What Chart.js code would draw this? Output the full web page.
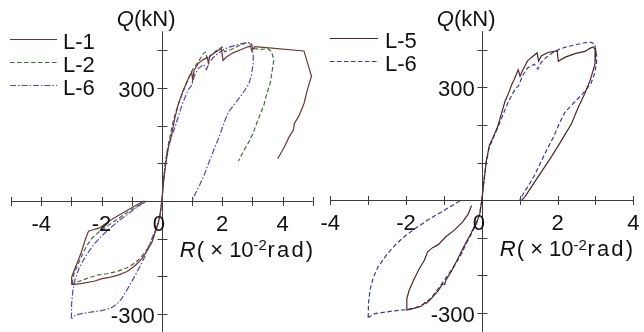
<!DOCTYPE html>
<html>
<head>
<meta charset="utf-8">
<script src="https://cdn.jsdelivr.net/npm/chart.js@4.4.1/dist/chart.umd.min.js"></script>
<style>
  html, body { margin: 0; padding: 0; background: #ffffff; }
  #wrap { position: relative; width: 644px; height: 332px; overflow: hidden; }
  canvas { position: absolute; top: 0; }
</style>
</head>
<body>
<div id="wrap">
  <canvas id="left" width="322" height="332" style="left:0px"></canvas>
  <canvas id="right" width="328" height="332" style="left:316px"></canvas>
</div>
<script>
// ---------------- data (R in 1e-2 rad, Q in kN) ----------------
const l1Pos = [[0,0],[0.05,46],[0.13,99],[0.22,143],[0.33,179],[0.44,223],[0.55,258],[0.71,294],[0.88,325],[0.99,342],[1.02,320],[1.07,347],[1.21,365],[1.37,375],[1.51,381],[1.54,366],[1.59,384],[1.75,393],[1.92,402],[1.97,404],[2.03,373],[2.14,382],[2.36,393],[2.63,402],[2.85,409],[2.94,411],[2.98,398],[3.07,409],[3.18,409],[4.71,398],[4.96,331],[4.82,294],[4.71,258],[4.55,227],[4.39,205],[4.36,188],[4.22,170],[4.06,143],[3.84,112]];
const l1NegLoad = [[0,0],[-0.05,-31],[-0.11,-57],[-0.22,-83],[-0.33,-110],[-0.49,-132],[-0.66,-153],[-0.88,-171],[-1.15,-187],[-1.43,-196],[-1.70,-202],[-1.98,-206],[-2.25,-213],[-2.69,-219],[-2.99,-222]];
const l1NegUnload = [[-2.99,-222],[-2.99,-202],[-2.93,-189],[-2.82,-167],[-2.67,-136],[-2.53,-101],[-2.43,-80],[-2.31,-77],[-2.09,-72],[-1.98,-66],[-1.70,-51],[-1.43,-38],[-1.04,-20],[-0.60,0]];

const l2Pos = [[0,0],[0.11,99],[0.22,152],[0.38,214],[0.55,258],[0.77,303],[0.93,334],[1.04,351],[1.21,369],[1.37,391],[1.45,395],[1.51,375],[1.62,387],[1.86,402],[2.0,409],[2.08,396],[2.30,402],[2.58,413],[2.80,419],[2.96,416],[3.07,404],[3.29,402],[3.51,404],[3.64,396],[3.71,373],[3.60,316],[3.45,276],[3.38,254],[3.18,214],[3.02,179],[2.85,152],[2.69,130],[2.54,106]];
const l2NegLoad = [[0,0],[-0.05,-30],[-0.12,-58],[-0.22,-82],[-0.35,-108],[-0.5,-130],[-0.7,-150],[-0.9,-165],[-1.15,-177],[-1.45,-186],[-1.8,-193],[-2.1,-196],[-2.4,-203],[-2.7,-212],[-2.97,-220]];
const l2NegUnload = [[-2.97,-220],[-2.92,-195],[-2.82,-175],[-2.68,-150],[-2.5,-120],[-2.3,-97],[-2.1,-83],[-1.8,-66],[-1.5,-50],[-1.2,-33],[-0.9,-18],[-0.6,-5],[-0.5,0]];

const l6Pos = [[0,0],[0.05,50],[0.11,96],[0.19,138],[0.33,172],[0.45,200],[0.57,230],[0.70,262],[0.82,285],[0.90,298],[0.97,305],[1.08,332],[1.21,352],[1.39,362],[1.48,349],[1.57,367],[1.70,380],[1.88,393],[2.05,402],[2.23,408],[2.45,413],[2.72,419],[2.89,420],[2.98,416],[3.03,385],[3.03,365],[2.97,335],[2.88,310],[2.65,282],[2.40,256],[2.20,235],[2.05,205],[1.90,170],[1.72,135],[1.55,100],[1.40,68],[1.25,42],[1.10,18],[1.0,0]];
const l6NegLoad = [[0,0],[-0.06,-38],[-0.15,-65],[-0.28,-90],[-0.42,-117],[-0.55,-145],[-0.70,-170],[-0.85,-192],[-1.0,-214],[-1.15,-235],[-1.33,-259],[-1.5,-274],[-1.65,-282],[-1.8,-287],[-2.0,-291],[-2.3,-294],[-2.6,-298],[-2.85,-302],[-2.99,-312]];
const l6NegUnload = [[-3.0,-312],[-2.99,-272],[-2.95,-238],[-2.87,-207],[-2.74,-177],[-2.5,-143],[-2.25,-115],[-2.0,-93],[-1.77,-76],[-1.42,-52],[-1.1,-33],[-0.8,-15],[-0.55,0]];

const l5Pos = [[0,0],[0.06,52],[0.12,105],[0.20,146],[0.30,168],[0.42,196],[0.52,231],[0.61,262],[0.73,291],[0.79,308],[0.86,322],[0.96,347],[1.01,330],[1.06,342],[1.21,371],[1.31,380],[1.46,392],[1.50,370],[1.57,384],[1.74,393],[1.92,396],[1.99,397],[2.02,370],[2.19,380],[2.46,390],[2.72,396],[2.89,406],[2.94,408],[3.01,399],[2.99,363],[2.86,319],[2.72,284],[2.55,248],[2.37,204],[2.11,160],[1.84,116],[1.49,63],[1.14,10],[1.05,0]];
const l5NegLoad = [[0,0],[-0.05,-35],[-0.11,-52],[-0.20,-70],[-0.28,-87],[-0.46,-120],[-0.63,-155],[-0.81,-190],[-0.95,-213],[-0.98,-224],[-1.03,-222],[-1.15,-240],[-1.33,-261],[-1.46,-274],[-1.50,-272],[-1.60,-282],[-1.77,-287],[-1.99,-292]];
const l5NegUnload = [[-1.99,-292],[-1.98,-262],[-1.92,-240],[-1.80,-212],[-1.65,-182],[-1.52,-160],[-1.43,-137],[-1.30,-126],[-1.15,-118],[-0.95,-97],[-0.71,-78],[-0.50,-57],[-0.36,-37],[-0.27,-14]];

// ticks
const leftXTicks = [-5,-4,-3,-2,-1,0,1,2,3,4,5];
const rightXTicks = [-4,-3,-2,-1,0,1,2,3,4];
const xTickLabels = [-4,-2,0,2,4];
const yTicks = [-300,-200,-100,0,100,200,300,400];
const yTickLabels = [300,-300];

// ---------------- helpers ----------------
const FONT = '"Liberation Sans", Arial, Helvetica, sans-serif';
const AXIS = '#3c3c3c';
const TEXT = '#111111';

function pts(...branches) {
  const out = [];
  branches.forEach((b, i) => {
    if (i > 0) out.push({x: null, y: null});
    b.forEach(([x, y]) => out.push({x, y}));
  });
  return out;
}

function ds(label, data, color, dash) {
  return { label, data, showLine: true, borderColor: color, backgroundColor: color,
           borderWidth: 1.2, borderDash: dash, pointRadius: 0, pointHoverRadius: 0,
           fill: false, tension: 0, spanGaps: false };
}

function spacedText(ctx, str, x, y, gap) {
  for (const ch of str) {
    ctx.fillText(ch, x, y);
    x += ctx.measureText(ch).width + gap;
  }
  return x;
}

function panelPlugin(p) {
  return {
    id: 'panel_' + p.id,
    beforeDatasetsDraw(chart) {
      const {ctx, chartArea: a, scales: {x, y}} = chart;
      const x0 = Math.round(x.getPixelForValue(0)) + 0.5;
      const y0 = Math.round(y.getPixelForValue(0)) + 0.5;
      ctx.save();
      ctx.strokeStyle = AXIS;
      ctx.lineWidth = 1;
      ctx.beginPath();
      ctx.moveTo(x.getPixelForValue(p.xTicks[0]), y0);
      ctx.lineTo(x.getPixelForValue(p.xTicks[p.xTicks.length - 1]), y0);
      ctx.moveTo(x0, a.top);
      ctx.lineTo(x0, chart.height);
      p.xTicks.forEach(v => {
        const px = Math.round(x.getPixelForValue(v)) + 0.5;
        ctx.moveTo(px, y0 - 4.5); ctx.lineTo(px, y0 + 4.5);
      });
      p.yTicks.forEach(v => {
        const py = Math.round(y.getPixelForValue(v)) + 0.5;
        ctx.moveTo(x0 - 5, py); ctx.lineTo(x0 + 5, py);
      });
      ctx.stroke();
      ctx.restore();
    },
    afterDraw(chart) {
      const {ctx, scales: {x, y}} = chart;
      const x0 = x.getPixelForValue(0);
      const y0 = y.getPixelForValue(0);
      ctx.save();
      ctx.fillStyle = TEXT;
      ctx.textBaseline = 'alphabetic';
      ctx.font = '22px ' + FONT;
      // x tick labels
      ctx.textAlign = 'center';
      p.xLabels.forEach(v => {
        ctx.fillText(String(v), x.getPixelForValue(v) + (v === 0 ? -3 : 0), y0 + 30);
      });
      // y tick labels
      ctx.textAlign = 'right';
      p.yLabels.forEach(v => {
        ctx.fillText(String(v), x0 - 7, y.getPixelForValue(v) + 9);
      });
      // Q(kN)
      ctx.textAlign = 'left';
      let qx = x0 - 45;
      ctx.font = 'italic 22px ' + FONT;
      ctx.fillText('Q', qx, 26);
      qx += ctx.measureText('Q').width;
      ctx.font = '22px ' + FONT;
      ctx.fillText('(kN)', qx, 26);
      // R(x10^-2 rad)
      let rx = x0 + 18;
      const rb = y0 + 56;
      ctx.font = 'italic 22px ' + FONT;
      ctx.fillText('R', rx, rb);
      rx += ctx.measureText('R').width + 1;
      ctx.font = '22px ' + FONT;
      ctx.fillText('( \u00d7 10', rx, rb);
      rx += ctx.measureText('( \u00d7 10').width;
      ctx.font = '15px ' + FONT;
      ctx.fillText('-2', rx, rb - 6.5);
      rx += ctx.measureText('-2').width + 0.5;
      ctx.font = '22px ' + FONT;
      spacedText(ctx, 'rad)', rx, rb, 2.2);
      // legend
      p.legend.forEach((e, i) => {
        const d = chart.data.datasets[i];
        ctx.save();
        ctx.strokeStyle = d.borderColor;
        ctx.lineWidth = 1.2;
        ctx.setLineDash(d.borderDash || []);
        ctx.beginPath();
        ctx.moveTo(e.x1, e.y + 0.5);
        ctx.lineTo(e.x2, e.y + 0.5);
        ctx.stroke();
        ctx.restore();
        ctx.font = '22px ' + FONT;
        ctx.textAlign = 'left';
        ctx.fillText(d.label, e.tx, e.y + 9.5);
      });
      ctx.restore();
    }
  };
}

Chart.defaults.font.family = FONT;

// ---------------- left panel ----------------
new Chart(document.getElementById('left'), {
  type: 'scatter',
  data: { datasets: [
    ds('L-1', pts(l1Pos, l1NegLoad, l1NegUnload), '#6b3535', []),
    ds('L-2', pts(l2Pos, l2NegLoad, l2NegUnload), '#4b6446', [4.5, 2.5]),
    ds('L-6', pts(l6Pos, l6NegLoad, l6NegUnload), '#5546b5', [6, 2, 1.5, 2])
  ]},
  options: {
    responsive: false, animation: false, events: [],
    layout: { padding: { left: 11, right: 9.3, top: 31.35, bottom: 0.95 } },
    scales: {
      x: { type: 'linear', min: -5, max: 5, display: false },
      y: { type: 'linear', min: -345, max: 450, display: false }
    },
    plugins: { legend: { display: false }, tooltip: { enabled: false } }
  },
  plugins: [panelPlugin({
    id: 'L', xTicks: leftXTicks, xLabels: xTickLabels, yTicks: yTicks, yLabels: yTickLabels,
    legend: [ {x1: 10, x2: 57, y: 39, tx: 63}, {x1: 10, x2: 57, y: 62, tx: 63}, {x1: 10, x2: 57, y: 85, tx: 63} ]
  })]
});

// ---------------- right panel ----------------
new Chart(document.getElementById('right'), {
  type: 'scatter',
  data: { datasets: [
    ds('L-5', pts(l5Pos, l5NegLoad, l5NegUnload), '#4d2626', []),
    ds('L-6', pts(l6Pos, l6NegLoad, l6NegUnload), '#3d3a9e', [4.5, 2.5])
  ]},
  options: {
    responsive: false, animation: false, events: [],
    layout: { padding: { left: 14.3, right: 10.7, top: 31.1, bottom: 2.0 } },
    scales: {
      x: { type: 'linear', min: -4, max: 4, display: false },
      y: { type: 'linear', min: -345, max: 450, display: false }
    },
    plugins: { legend: { display: false }, tooltip: { enabled: false } }
  },
  plugins: [panelPlugin({
    id: 'R', xTicks: rightXTicks, xLabels: xTickLabels, yTicks: yTicks, yLabels: yTickLabels,
    legend: [ {x1: 14, x2: 62, y: 38, tx: 69}, {x1: 14, x2: 62, y: 61, tx: 69} ]
  })]
});
</script>
</body>
</html>
